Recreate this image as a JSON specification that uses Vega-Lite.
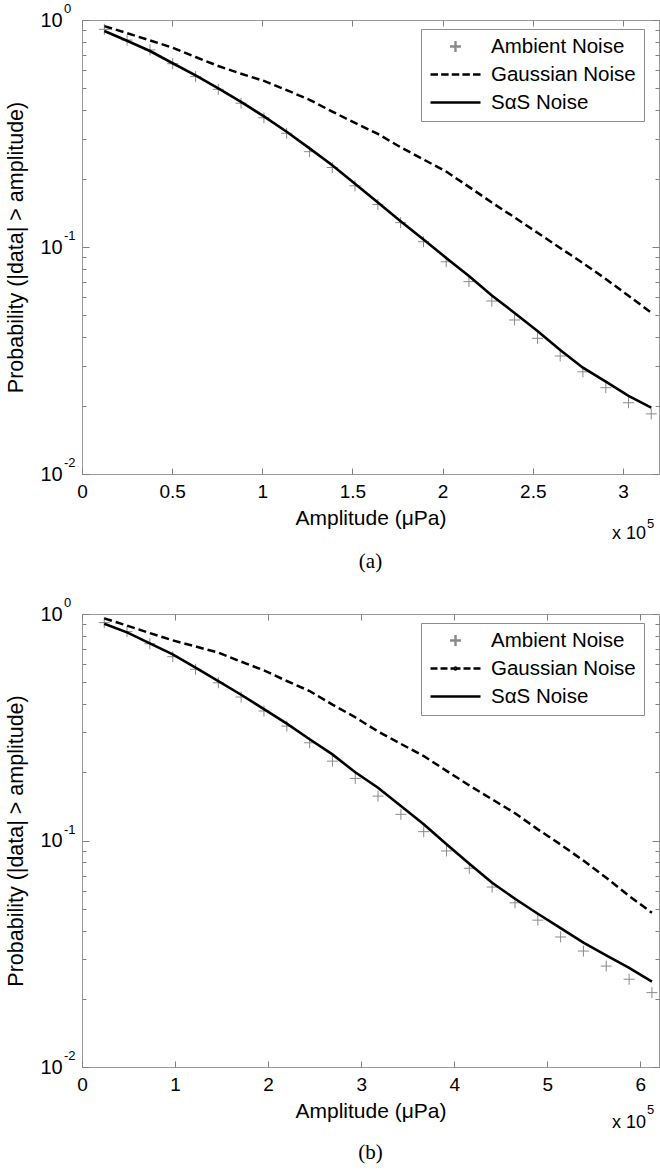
{
  "$schema": "https://vega.github.io/schema/vega-lite/v6.json",
  "padding": {"left": 4, "top": 2, "right": 2, "bottom": 0},
  "background": "white",
  "bounds": "flush",
  "spacing": 140,
  "resolve": {"scale": {"color": "independent", "shape": "independent"}, "legend": {"color": "independent", "shape": "independent"}},
  "config": {
    "font": "Liberation Sans",
    "view": {"stroke": "#999999", "strokeWidth": 1},
    "axis": {"labelColor": "#000000", "titleColor": "#000000", "titleFontWeight": "normal", "labelFont": "Liberation Sans", "titleFont": "Liberation Sans", "tickColor": "#808080", "tickWidth": 1, "grid": false, "domain": false},
    "legend": {"symbolLimit": 0}
  },
  "datasets": {
    "a": [
      {"x": 0.124, "p": 0.91, "s": "Ambient Noise"}, {"x": 0.250, "p": 0.816, "s": "Ambient Noise"}, {"x": 0.377, "p": 0.738, "s": "Ambient Noise"}, {"x": 0.503, "p": 0.642, "s": "Ambient Noise"}, {"x": 0.630, "p": 0.563, "s": "Ambient Noise"},
      {"x": 0.756, "p": 0.495, "s": "Ambient Noise"}, {"x": 0.882, "p": 0.430, "s": "Ambient Noise"}, {"x": 1.009, "p": 0.371, "s": "Ambient Noise"}, {"x": 1.135, "p": 0.317, "s": "Ambient Noise"}, {"x": 1.262, "p": 0.263, "s": "Ambient Noise"},
      {"x": 1.388, "p": 0.224, "s": "Ambient Noise"}, {"x": 1.514, "p": 0.186, "s": "Ambient Noise"}, {"x": 1.641, "p": 0.154, "s": "Ambient Noise"}, {"x": 1.767, "p": 0.128, "s": "Ambient Noise"}, {"x": 1.894, "p": 0.1055, "s": "Ambient Noise"},
      {"x": 2.020, "p": 0.0861, "s": "Ambient Noise"}, {"x": 2.146, "p": 0.0704, "s": "Ambient Noise"}, {"x": 2.273, "p": 0.0578, "s": "Ambient Noise"}, {"x": 2.399, "p": 0.0477, "s": "Ambient Noise"}, {"x": 2.526, "p": 0.0396, "s": "Ambient Noise"},
      {"x": 2.652, "p": 0.0331, "s": "Ambient Noise"}, {"x": 2.778, "p": 0.0282, "s": "Ambient Noise"}, {"x": 2.905, "p": 0.024, "s": "Ambient Noise"}, {"x": 3.031, "p": 0.0206, "s": "Ambient Noise"}, {"x": 3.157, "p": 0.0184, "s": "Ambient Noise"},
      {"x": 0.124, "p": 0.94, "s": "Gaussian Noise"}, {"x": 0.250, "p": 0.875, "s": "Gaussian Noise"}, {"x": 0.377, "p": 0.813, "s": "Gaussian Noise"}, {"x": 0.503, "p": 0.755, "s": "Gaussian Noise"}, {"x": 0.630, "p": 0.687, "s": "Gaussian Noise"},
      {"x": 0.756, "p": 0.627, "s": "Gaussian Noise"}, {"x": 0.882, "p": 0.58, "s": "Gaussian Noise"}, {"x": 1.009, "p": 0.539, "s": "Gaussian Noise"}, {"x": 1.135, "p": 0.491, "s": "Gaussian Noise"}, {"x": 1.262, "p": 0.445, "s": "Gaussian Noise"},
      {"x": 1.388, "p": 0.395, "s": "Gaussian Noise"}, {"x": 1.514, "p": 0.352, "s": "Gaussian Noise"}, {"x": 1.641, "p": 0.315, "s": "Gaussian Noise"}, {"x": 1.767, "p": 0.275, "s": "Gaussian Noise"}, {"x": 1.894, "p": 0.243, "s": "Gaussian Noise"},
      {"x": 2.020, "p": 0.215, "s": "Gaussian Noise"}, {"x": 2.146, "p": 0.184, "s": "Gaussian Noise"}, {"x": 2.273, "p": 0.157, "s": "Gaussian Noise"}, {"x": 2.399, "p": 0.135, "s": "Gaussian Noise"}, {"x": 2.526, "p": 0.1156, "s": "Gaussian Noise"},
      {"x": 2.652, "p": 0.099, "s": "Gaussian Noise"}, {"x": 2.778, "p": 0.085, "s": "Gaussian Noise"}, {"x": 2.905, "p": 0.0723, "s": "Gaussian Noise"}, {"x": 3.031, "p": 0.061, "s": "Gaussian Noise"}, {"x": 3.157, "p": 0.0514, "s": "Gaussian Noise"},
      {"x": 0.124, "p": 0.895, "s": "SαS Noise"}, {"x": 0.250, "p": 0.81, "s": "SαS Noise"}, {"x": 0.377, "p": 0.73, "s": "SαS Noise"}, {"x": 0.503, "p": 0.645, "s": "SαS Noise"}, {"x": 0.630, "p": 0.57, "s": "SαS Noise"},
      {"x": 0.756, "p": 0.50, "s": "SαS Noise"}, {"x": 0.882, "p": 0.436, "s": "SαS Noise"}, {"x": 1.009, "p": 0.376, "s": "SαS Noise"}, {"x": 1.135, "p": 0.322, "s": "SαS Noise"}, {"x": 1.262, "p": 0.272, "s": "SαS Noise"},
      {"x": 1.388, "p": 0.229, "s": "SαS Noise"}, {"x": 1.514, "p": 0.19, "s": "SαS Noise"}, {"x": 1.641, "p": 0.157, "s": "SαS Noise"}, {"x": 1.767, "p": 0.13, "s": "SαS Noise"}, {"x": 1.894, "p": 0.108, "s": "SαS Noise"},
      {"x": 2.020, "p": 0.0895, "s": "SαS Noise"}, {"x": 2.146, "p": 0.0745, "s": "SαS Noise"}, {"x": 2.273, "p": 0.0612, "s": "SαS Noise"}, {"x": 2.399, "p": 0.0512, "s": "SαS Noise"}, {"x": 2.526, "p": 0.0427, "s": "SαS Noise"},
      {"x": 2.652, "p": 0.0352, "s": "SαS Noise"}, {"x": 2.778, "p": 0.0294, "s": "SαS Noise"}, {"x": 2.905, "p": 0.0255, "s": "SαS Noise"}, {"x": 3.031, "p": 0.0221, "s": "SαS Noise"}, {"x": 3.157, "p": 0.0196, "s": "SαS Noise"}
    ],
    "b": [
      {"x": 0.239, "p": 0.916, "s": "Ambient Noise"}, {"x": 0.484, "p": 0.836, "s": "Ambient Noise"}, {"x": 0.729, "p": 0.739, "s": "Ambient Noise"}, {"x": 0.975, "p": 0.648, "s": "Ambient Noise"}, {"x": 1.220, "p": 0.570, "s": "Ambient Noise"},
      {"x": 1.465, "p": 0.497, "s": "Ambient Noise"}, {"x": 1.710, "p": 0.430, "s": "Ambient Noise"}, {"x": 1.955, "p": 0.373, "s": "Ambient Noise"}, {"x": 2.201, "p": 0.32, "s": "Ambient Noise"}, {"x": 2.446, "p": 0.27, "s": "Ambient Noise"},
      {"x": 2.691, "p": 0.224, "s": "Ambient Noise"}, {"x": 2.936, "p": 0.188, "s": "Ambient Noise"}, {"x": 3.181, "p": 0.157, "s": "Ambient Noise"}, {"x": 3.427, "p": 0.1305, "s": "Ambient Noise"}, {"x": 3.672, "p": 0.1094, "s": "Ambient Noise"},
      {"x": 3.917, "p": 0.0899, "s": "Ambient Noise"}, {"x": 4.162, "p": 0.0754, "s": "Ambient Noise"}, {"x": 4.407, "p": 0.0623, "s": "Ambient Noise"}, {"x": 4.653, "p": 0.0531, "s": "Ambient Noise"}, {"x": 4.898, "p": 0.0445, "s": "Ambient Noise"},
      {"x": 5.143, "p": 0.0375, "s": "Ambient Noise"}, {"x": 5.388, "p": 0.0325, "s": "Ambient Noise"}, {"x": 5.633, "p": 0.0279, "s": "Ambient Noise"}, {"x": 5.879, "p": 0.0244, "s": "Ambient Noise"}, {"x": 6.124, "p": 0.0213, "s": "Ambient Noise"},
      {"x": 0.239, "p": 0.957, "s": "Gaussian Noise"}, {"x": 0.484, "p": 0.889, "s": "Gaussian Noise"}, {"x": 0.729, "p": 0.824, "s": "Gaussian Noise"}, {"x": 0.975, "p": 0.765, "s": "Gaussian Noise"}, {"x": 1.220, "p": 0.719, "s": "Gaussian Noise"},
      {"x": 1.465, "p": 0.675, "s": "Gaussian Noise"}, {"x": 1.710, "p": 0.616, "s": "Gaussian Noise"}, {"x": 1.955, "p": 0.564, "s": "Gaussian Noise"}, {"x": 2.201, "p": 0.506, "s": "Gaussian Noise"}, {"x": 2.446, "p": 0.457, "s": "Gaussian Noise"},
      {"x": 2.691, "p": 0.398, "s": "Gaussian Noise"}, {"x": 2.936, "p": 0.35, "s": "Gaussian Noise"}, {"x": 3.181, "p": 0.303, "s": "Gaussian Noise"}, {"x": 3.427, "p": 0.267, "s": "Gaussian Noise"}, {"x": 3.672, "p": 0.236, "s": "Gaussian Noise"},
      {"x": 3.917, "p": 0.203, "s": "Gaussian Noise"}, {"x": 4.162, "p": 0.175, "s": "Gaussian Noise"}, {"x": 4.407, "p": 0.152, "s": "Gaussian Noise"}, {"x": 4.653, "p": 0.132, "s": "Gaussian Noise"}, {"x": 4.898, "p": 0.112, "s": "Gaussian Noise"},
      {"x": 5.143, "p": 0.096, "s": "Gaussian Noise"}, {"x": 5.388, "p": 0.0815, "s": "Gaussian Noise"}, {"x": 5.633, "p": 0.0685, "s": "Gaussian Noise"}, {"x": 5.879, "p": 0.0569, "s": "Gaussian Noise"}, {"x": 6.124, "p": 0.048, "s": "Gaussian Noise"},
      {"x": 0.239, "p": 0.906, "s": "SαS Noise"}, {"x": 0.484, "p": 0.83, "s": "SαS Noise"}, {"x": 0.729, "p": 0.742, "s": "SαS Noise"}, {"x": 0.975, "p": 0.664, "s": "SαS Noise"}, {"x": 1.220, "p": 0.58, "s": "SαS Noise"},
      {"x": 1.465, "p": 0.506, "s": "SαS Noise"}, {"x": 1.710, "p": 0.44, "s": "SαS Noise"}, {"x": 1.955, "p": 0.38, "s": "SαS Noise"}, {"x": 2.201, "p": 0.328, "s": "SαS Noise"}, {"x": 2.446, "p": 0.28, "s": "SαS Noise"},
      {"x": 2.691, "p": 0.24, "s": "SαS Noise"}, {"x": 2.936, "p": 0.2, "s": "SαS Noise"}, {"x": 3.181, "p": 0.171, "s": "SαS Noise"}, {"x": 3.427, "p": 0.142, "s": "SαS Noise"}, {"x": 3.672, "p": 0.118, "s": "SαS Noise"},
      {"x": 3.917, "p": 0.0962, "s": "SαS Noise"}, {"x": 4.162, "p": 0.079, "s": "SαS Noise"}, {"x": 4.407, "p": 0.0651, "s": "SαS Noise"}, {"x": 4.653, "p": 0.0553, "s": "SαS Noise"}, {"x": 4.898, "p": 0.0475, "s": "SαS Noise"},
      {"x": 5.143, "p": 0.041, "s": "SαS Noise"}, {"x": 5.388, "p": 0.0354, "s": "SαS Noise"}, {"x": 5.633, "p": 0.0311, "s": "SαS Noise"}, {"x": 5.879, "p": 0.0274, "s": "SαS Noise"}, {"x": 6.124, "p": 0.0238, "s": "SαS Noise"}
    ]
  },
  "vconcat": [
    {
      "width": 577,
      "height": 454,
      "title": {"text": "(a)", "orient": "bottom", "anchor": "middle", "font": "Liberation Serif", "fontSize": 21, "fontWeight": "normal", "color": "#000000", "offset": 8},
      "data": {"name": "a"},
      "resolve": {"axis": {"x": "independent", "y": "independent"}},
      "layer": [
        {
          "transform": [{"filter": "datum.s === 'Ambient Noise'"}],
          "mark": {"type": "point", "filled": false, "size": 2500, "strokeWidth": 1, "opacity": 1},
          "encoding": {
            "x": {"field": "x", "type": "quantitative", "scale": {"domain": [0, 3.2], "nice": false, "zero": false}, "axis": {"orient": "bottom", "values": [0, 0.5, 1, 1.5, 2, 2.5, 3], "format": "~g", "ticks": false, "domain": false, "grid": false, "labelPadding": 8, "labelFontSize": 19, "labelFlush": false, "title": "Amplitude (μPa)", "titleFontSize": 21, "titlePadding": 6}},
            "y": {"field": "p", "type": "quantitative", "scale": {"type": "log", "domain": [0.01, 1], "nice": false}, "axis": {"orient": "left", "values": [0.01, 0.1, 1], "labelExpr": "'10'", "ticks": false, "domain": false, "grid": false, "labelAlign": "left", "labelBaseline": "middle", "labelPadding": 42, "labelFontSize": 20, "labelFlush": false, "title": "Probability (|data| > amplitude)", "titleFontSize": 21.5, "titlePadding": 13}},
            "shape": {"field": "s", "type": "nominal", "scale": {"domain": ["Ambient Noise", "Gaussian Noise", "SαS Noise"], "range": ["M-0.22,0H0.22M0,-0.22V0.22", "M-1,0H-0.7M-0.575,0H-0.275M-0.15,0H0.15M0.275,0H0.575M0.7,0H1", "M-1,0H1"]},
              "legend": {"orient": "none", "legendX": 339, "legendY": 9, "title": null, "labelFontSize": 20.5, "labelFont": "Liberation Sans", "labelColor": "#000000", "symbolSize": 2500, "symbolStrokeWidth": 2.4, "clipHeight": 19, "padding": 8, "rowPadding": 7, "labelOffset": 9, "strokeColor": "#8c8c8c", "fillColor": "#ffffff", "encode": {"symbols": {"update": {"strokeWidth": {"signal": "datum.value === 'Ambient Noise' ? 1 : 2.4"}}}}}},
            "color": {"field": "s", "type": "nominal", "scale": {"domain": ["Ambient Noise", "Gaussian Noise", "SαS Noise"], "range": ["#8a8a8a", "#000000", "#000000"]},
              "legend": {"orient": "none", "legendX": 339, "legendY": 9, "title": null, "labelFontSize": 20.5, "labelFont": "Liberation Sans", "labelColor": "#000000", "symbolSize": 2500, "symbolStrokeWidth": 2.4, "clipHeight": 19, "padding": 8, "rowPadding": 7, "labelOffset": 9, "strokeColor": "#8c8c8c", "fillColor": "#ffffff", "encode": {"symbols": {"update": {"strokeWidth": {"signal": "datum.value === 'Ambient Noise' ? 1 : 2.4"}}}}}}
          }
        },
        {
          "transform": [{"filter": "datum.s === 'Gaussian Noise'"}],
          "mark": {"type": "line", "color": "#000000", "strokeWidth": 2.5, "strokeDash": [8, 4]},
          "encoding": {
            "x": {"field": "x", "type": "quantitative", "scale": {"domain": [0, 3.2], "nice": false, "zero": false}, "axis": {"orient": "bottom", "values": [0, 0.5, 1, 1.5, 2, 2.5, 3], "labels": false, "domain": false, "grid": false, "ticks": true, "tickSize": -6, "title": null}},
            "y": {"field": "p", "type": "quantitative", "scale": {"type": "log", "domain": [0.01, 1], "nice": false}, "axis": {"orient": "left", "values": [0.01, 0.02, 0.03, 0.04, 0.05, 0.06, 0.07, 0.08, 0.09, 0.1, 0.2, 0.3, 0.4, 0.5, 0.6, 0.7, 0.8, 0.9, 1], "labels": false, "domain": false, "grid": false, "ticks": true, "tickSize": {"condition": {"test": "datum.value == 1 || datum.value == 0.1 || datum.value == 0.01", "value": -7}, "value": -4}, "title": null}}
          }
        },
        {
          "transform": [{"filter": "datum.s === 'SαS Noise'"}],
          "mark": {"type": "line", "color": "#000000", "strokeWidth": 2.6},
          "encoding": {
            "x": {"field": "x", "type": "quantitative", "scale": {"domain": [0, 3.2], "nice": false, "zero": false}, "axis": {"orient": "top", "values": [0, 0.5, 1, 1.5, 2, 2.5, 3], "labels": false, "domain": false, "grid": false, "ticks": true, "tickSize": -6, "title": null}},
            "y": {"field": "p", "type": "quantitative", "scale": {"type": "log", "domain": [0.01, 1], "nice": false}, "axis": {"orient": "right", "values": [0.01, 0.02, 0.03, 0.04, 0.05, 0.06, 0.07, 0.08, 0.09, 0.1, 0.2, 0.3, 0.4, 0.5, 0.6, 0.7, 0.8, 0.9, 1], "labels": false, "domain": false, "grid": false, "ticks": true, "tickSize": {"condition": {"test": "datum.value == 1 || datum.value == 0.1 || datum.value == 0.01", "value": -7}, "value": -4}, "title": null}}
          }
        },
        {
          "data": {"values": [{"p": 1, "e": "0"}, {"p": 0.1, "e": "-1"}, {"p": 0.01, "e": "-2"}]},
          "mark": {"type": "text", "align": "left", "baseline": "middle", "dx": -18, "dy": -11, "fontSize": 13, "font": "Liberation Sans", "color": "#000000"},
          "encoding": {
            "x": {"datum": 0, "type": "quantitative", "scale": {"domain": [0, 3.2], "nice": false, "zero": false}, "axis": null},
            "y": {"field": "p", "type": "quantitative", "scale": {"type": "log", "domain": [0.01, 1], "nice": false}, "axis": null},
            "text": {"field": "e"}
          }
        },
        {
          "data": {"values": [{"t": "x 10"}]},
          "mark": {"type": "text", "align": "right", "baseline": "alphabetic", "dx": -13, "dy": 65, "fontSize": 18, "font": "Liberation Sans", "color": "#000000"},
          "encoding": {
            "x": {"datum": 3.2, "type": "quantitative", "scale": {"domain": [0, 3.2], "nice": false, "zero": false}, "axis": null},
            "y": {"datum": 0.01, "type": "quantitative", "scale": {"type": "log", "domain": [0.01, 1], "nice": false}, "axis": null},
            "text": {"field": "t"}
          }
        },
        {
          "data": {"values": [{"t": "5"}]},
          "mark": {"type": "text", "align": "left", "baseline": "alphabetic", "dx": -12, "dy": 54, "fontSize": 13, "font": "Liberation Sans", "color": "#000000"},
          "encoding": {
            "x": {"datum": 3.2, "type": "quantitative", "scale": {"domain": [0, 3.2], "nice": false, "zero": false}, "axis": null},
            "y": {"datum": 0.01, "type": "quantitative", "scale": {"type": "log", "domain": [0.01, 1], "nice": false}, "axis": null},
            "text": {"field": "t"}
          }
        }
      ]
    },
    {
      "width": 577,
      "height": 453,
      "title": {"text": "(b)", "orient": "bottom", "anchor": "middle", "font": "Liberation Serif", "fontSize": 21, "fontWeight": "normal", "color": "#000000", "offset": 10},
      "data": {"name": "b"},
      "resolve": {"axis": {"x": "independent", "y": "independent"}},
      "layer": [
        {
          "transform": [{"filter": "datum.s === 'Ambient Noise'"}],
          "mark": {"type": "point", "filled": false, "size": 2500, "strokeWidth": 1, "opacity": 1},
          "encoding": {
            "x": {"field": "x", "type": "quantitative", "scale": {"domain": [0, 6.2], "nice": false, "zero": false}, "axis": {"orient": "bottom", "values": [0, 1, 2, 3, 4, 5, 6], "format": "~g", "ticks": false, "domain": false, "grid": false, "labelPadding": 8, "labelFontSize": 19, "labelFlush": false, "title": "Amplitude (μPa)", "titleFontSize": 21, "titlePadding": 6}},
            "y": {"field": "p", "type": "quantitative", "scale": {"type": "log", "domain": [0.01, 1], "nice": false}, "axis": {"orient": "left", "values": [0.01, 0.1, 1], "labelExpr": "'10'", "ticks": false, "domain": false, "grid": false, "labelAlign": "left", "labelBaseline": "middle", "labelPadding": 42, "labelFontSize": 20, "labelFlush": false, "title": "Probability (|data| > amplitude)", "titleFontSize": 21.5, "titlePadding": 13}},
            "shape": {"field": "s", "type": "nominal", "scale": {"domain": ["Ambient Noise", "Gaussian Noise", "SαS Noise"], "range": ["M-0.22,0H0.22M0,-0.22V0.22", "M-1,0H-0.72M-0.6,0H-0.32M-0.2,0H-0.08M0.08,0H0.2M0.32,0H0.6M0.72,0H1M-0.04,0A0.04,0.04 0 1,0 0.04,0A0.04,0.04 0 1,0 -0.04,0", "M-1,0H1"]},
              "legend": {"orient": "none", "legendX": 339, "legendY": 9, "title": null, "labelFontSize": 20.5, "labelFont": "Liberation Sans", "labelColor": "#000000", "symbolSize": 2500, "symbolStrokeWidth": 2.4, "clipHeight": 19, "padding": 8, "rowPadding": 7, "labelOffset": 9, "strokeColor": "#8c8c8c", "fillColor": "#ffffff", "encode": {"symbols": {"update": {"strokeWidth": {"signal": "datum.value === 'Ambient Noise' ? 1 : 2.4"}}}}}},
            "color": {"field": "s", "type": "nominal", "scale": {"domain": ["Ambient Noise", "Gaussian Noise", "SαS Noise"], "range": ["#8a8a8a", "#000000", "#000000"]},
              "legend": {"orient": "none", "legendX": 339, "legendY": 9, "title": null, "labelFontSize": 20.5, "labelFont": "Liberation Sans", "labelColor": "#000000", "symbolSize": 2500, "symbolStrokeWidth": 2.4, "clipHeight": 19, "padding": 8, "rowPadding": 7, "labelOffset": 9, "strokeColor": "#8c8c8c", "fillColor": "#ffffff", "encode": {"symbols": {"update": {"strokeWidth": {"signal": "datum.value === 'Ambient Noise' ? 1 : 2.4"}}}}}}
          }
        },
        {
          "transform": [{"filter": "datum.s === 'Gaussian Noise'"}],
          "mark": {"type": "line", "color": "#000000", "strokeWidth": 2.5, "strokeDash": [8, 4]},
          "encoding": {
            "x": {"field": "x", "type": "quantitative", "scale": {"domain": [0, 6.2], "nice": false, "zero": false}, "axis": {"orient": "bottom", "values": [0, 1, 2, 3, 4, 5, 6], "labels": false, "domain": false, "grid": false, "ticks": true, "tickSize": -6, "title": null}},
            "y": {"field": "p", "type": "quantitative", "scale": {"type": "log", "domain": [0.01, 1], "nice": false}, "axis": {"orient": "left", "values": [0.01, 0.02, 0.03, 0.04, 0.05, 0.06, 0.07, 0.08, 0.09, 0.1, 0.2, 0.3, 0.4, 0.5, 0.6, 0.7, 0.8, 0.9, 1], "labels": false, "domain": false, "grid": false, "ticks": true, "tickSize": {"condition": {"test": "datum.value == 1 || datum.value == 0.1 || datum.value == 0.01", "value": -7}, "value": -4}, "title": null}}
          }
        },
        {
          "transform": [{"filter": "datum.s === 'SαS Noise'"}],
          "mark": {"type": "line", "color": "#000000", "strokeWidth": 2.6},
          "encoding": {
            "x": {"field": "x", "type": "quantitative", "scale": {"domain": [0, 6.2], "nice": false, "zero": false}, "axis": {"orient": "top", "values": [0, 1, 2, 3, 4, 5, 6], "labels": false, "domain": false, "grid": false, "ticks": true, "tickSize": -6, "title": null}},
            "y": {"field": "p", "type": "quantitative", "scale": {"type": "log", "domain": [0.01, 1], "nice": false}, "axis": {"orient": "right", "values": [0.01, 0.02, 0.03, 0.04, 0.05, 0.06, 0.07, 0.08, 0.09, 0.1, 0.2, 0.3, 0.4, 0.5, 0.6, 0.7, 0.8, 0.9, 1], "labels": false, "domain": false, "grid": false, "ticks": true, "tickSize": {"condition": {"test": "datum.value == 1 || datum.value == 0.1 || datum.value == 0.01", "value": -7}, "value": -4}, "title": null}}
          }
        },
        {
          "data": {"values": [{"p": 1, "e": "0"}, {"p": 0.1, "e": "-1"}, {"p": 0.01, "e": "-2"}]},
          "mark": {"type": "text", "align": "left", "baseline": "middle", "dx": -18, "dy": -11, "fontSize": 13, "font": "Liberation Sans", "color": "#000000"},
          "encoding": {
            "x": {"datum": 0, "type": "quantitative", "scale": {"domain": [0, 6.2], "nice": false, "zero": false}, "axis": null},
            "y": {"field": "p", "type": "quantitative", "scale": {"type": "log", "domain": [0.01, 1], "nice": false}, "axis": null},
            "text": {"field": "e"}
          }
        },
        {
          "data": {"values": [{"t": "x 10"}]},
          "mark": {"type": "text", "align": "right", "baseline": "alphabetic", "dx": -13, "dy": 61, "fontSize": 18, "font": "Liberation Sans", "color": "#000000"},
          "encoding": {
            "x": {"datum": 6.2, "type": "quantitative", "scale": {"domain": [0, 6.2], "nice": false, "zero": false}, "axis": null},
            "y": {"datum": 0.01, "type": "quantitative", "scale": {"type": "log", "domain": [0.01, 1], "nice": false}, "axis": null},
            "text": {"field": "t"}
          }
        },
        {
          "data": {"values": [{"t": "5"}]},
          "mark": {"type": "text", "align": "left", "baseline": "alphabetic", "dx": -12, "dy": 47, "fontSize": 13, "font": "Liberation Sans", "color": "#000000"},
          "encoding": {
            "x": {"datum": 6.2, "type": "quantitative", "scale": {"domain": [0, 6.2], "nice": false, "zero": false}, "axis": null},
            "y": {"datum": 0.01, "type": "quantitative", "scale": {"type": "log", "domain": [0.01, 1], "nice": false}, "axis": null},
            "text": {"field": "t"}
          }
        }
      ]
    }
  ]
}
